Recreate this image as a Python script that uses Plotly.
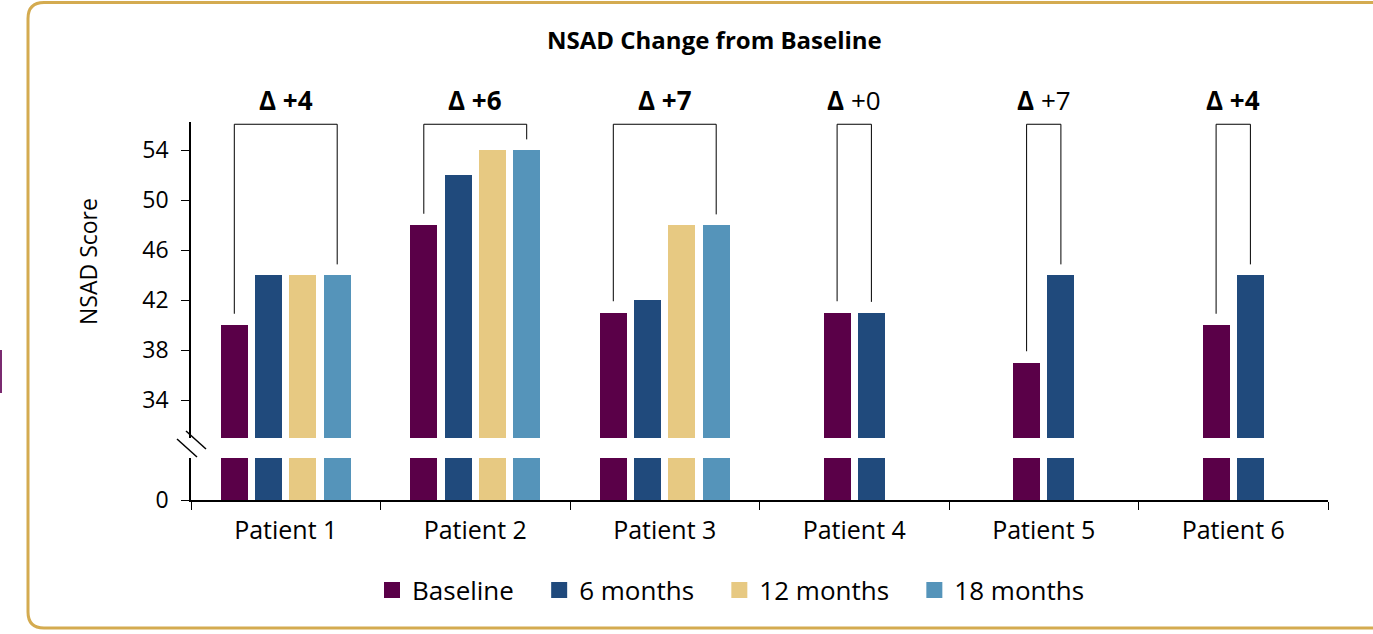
import plotly.graph_objects as go

patients = ["Patient 1", "Patient 2", "Patient 3", "Patient 4", "Patient 5", "Patient 6"]
series_names = ["Baseline", "6 months", "12 months", "18 months"]
baseline = [40, 48, 41, 41, 37, 40]
m6 = [44, 52, 42, 41, 44, 44]
m12 = [44, 54, 48, None, None, None]
m18 = [44, 54, 48, None, None, None]
deltas = ["+4", "+6", "+7", "+0", "+7", "+4"]
delta_bold = [True, True, True, False, False, True]
upper_ticks = [34, 38, 42, 46, 50, 54]

colors = ["#5A0048", "#204A7C", "#E7C982", "#5594BA"]
series = [baseline, m6, m12, m18]

FONT = "Open Sans"
W, H = 1373, 634
L, R, T, B = 191, 1328, 122, 500
pw, ph = R - L, B - T
UP_BOTTOM = 438
LOW_TOP = 458
px_per_unit = 12.5

def xp(px):
    return (px - L) / pw

def yp(py):
    return (B - py) / ph

upper_range = [34 - (UP_BOTTOM - 400) / px_per_unit, 54 + (150 - T) / px_per_unit]
lower_range = [0, (B - LOW_TOP) / px_per_unit]

cat_px = pw / len(patients)
pitch = 34.3 / cat_px
bw = 27 / cat_px

counts = [sum(1 for s in series if s[j] is not None) for j in range(len(patients))]

fig = go.Figure()
for i, (name, vals, col) in enumerate(zip(series_names, series, colors)):
    offs = [(i - counts[j] / 2) * pitch + (pitch - bw) / 2 for j in range(len(patients))]
    for ax in ("y2", "y"):
        fig.add_trace(go.Bar(
            x=patients, y=vals, name=name, marker_color=col, marker_line_width=0,
            width=bw, offset=offs, yaxis=ax, showlegend=False, legendgroup=name,
            hoverinfo="skip",
        ))
    # legend entry with a larger square swatch
    fig.add_trace(go.Scatter(
        x=[None], y=[None], mode="markers", name=name + "\u00a0\u00a0\u00a0", legendgroup=name,
        marker=dict(symbol="square", size=17, color=col, line_width=0), showlegend=True,
    ))

# brackets connecting first and last bar of each patient
top_val = 56.06
for j in range(len(patients)):
    vals = [s[j] for s in series if s[j] is not None]
    n = len(vals)
    x_first = j + (0 - n / 2) * pitch + pitch / 2
    x_last = j + (n - 1 - n / 2) * pitch + pitch / 2
    fig.add_shape(type="path", xref="x", yref="y2",
                  path=f"M {x_first},{vals[0] + 0.9} L {x_first},{top_val} L {x_last},{top_val} L {x_last},{vals[-1] + 0.85}",
                  line=dict(color="black", width=1))
    txt = f"<b>Δ {deltas[j]}</b>" if delta_bold[j] else f"<b>Δ</b> {deltas[j]}"
    fig.add_annotation(x=patients[j], y=yp(100), xref="x", yref="paper", text=txt, showarrow=False,
                       font=dict(family=FONT, size=26, color="black"), yanchor="middle")

# axis break marks
for (x0, y0, x1, y1) in [(186, 431, 206, 449), (177, 439, 197, 457)]:
    fig.add_shape(type="line", xref="paper", yref="paper", x0=xp(x0), y0=yp(y0), x1=xp(x1), y1=yp(y1),
                  line=dict(color="black", width=1.5))

# rounded gold border
bx0, by0, bx1, by1, r = 28, 2.5, 1390, 628, 16
path = (f"M {xp(bx1)},{yp(by0)} L {xp(bx0 + r)},{yp(by0)} Q {xp(bx0)},{yp(by0)} {xp(bx0)},{yp(by0 + r)} "
        f"L {xp(bx0)},{yp(by1 - r)} Q {xp(bx0)},{yp(by1)} {xp(bx0 + r)},{yp(by1)} L {xp(bx1)},{yp(by1)}")
fig.add_shape(type="path", xref="paper", yref="paper", path=path, line=dict(color="#D4AB50", width=3))
fig.add_shape(type="rect", xref="paper", yref="paper", x0=xp(0), x1=xp(2), y0=yp(350), y1=yp(393),
              line_width=0, fillcolor="#7A2A70")

fig.add_annotation(x=xp(714), y=yp(40), xref="paper", yref="paper", text="<b>NSAD Change from Baseline</b>",
                   showarrow=False, font=dict(family=FONT, size=24, color="black"), yanchor="middle")
fig.add_annotation(x=xp(88), y=yp(262), xref="paper", yref="paper", text="NSAD Score", textangle=-90,
                   showarrow=False, font=dict(family=FONT, size=23, color="black"), xanchor="center", yanchor="middle")

fig.update_layout(
    width=W, height=H, margin=dict(l=L, r=W - R, t=T, b=H - B),
    paper_bgcolor="white", plot_bgcolor="white",
    barmode="overlay", bargap=0,
    font=dict(family=FONT, color="black"),
    hovermode=False,
    xaxis=dict(type="category", categoryorder="array", categoryarray=patients, range=[-0.5, 5.5],
               tickson="boundaries", ticks="outside", ticklen=8, tickcolor="black", showline=True,
               linecolor="black", linewidth=1.5, showgrid=False, anchor="y", ticklabelstandoff=7,
               tickfont=dict(family=FONT, size=25)),
    yaxis=dict(domain=[0, yp(LOW_TOP)], range=lower_range, tickvals=[0], ticktext=["0"], ticks="outside",
               ticklen=8, tickcolor="black", showline=True, linecolor="black", linewidth=1.5, showgrid=False,
               zeroline=False, anchor="x", ticklabelstandoff=8, tickfont=dict(family=FONT, size=23)),
    yaxis2=dict(domain=[yp(UP_BOTTOM), 1], range=upper_range, tickvals=upper_ticks, ticks="outside",
                ticklen=8, tickcolor="black", showline=True, linecolor="black", linewidth=1.5, showgrid=False,
                zeroline=False, anchor="x", ticklabelstandoff=8, tickfont=dict(family=FONT, size=23)),
    legend=dict(orientation="h", x=xp(372), y=yp(590), xanchor="left", yanchor="middle",
                font=dict(family=FONT, size=26), traceorder="normal", itemwidth=30),
    showlegend=True,
)

fig.write_html("out.html", config={"displayModeBar": False},
               post_script="document.body.style.margin='0';")
